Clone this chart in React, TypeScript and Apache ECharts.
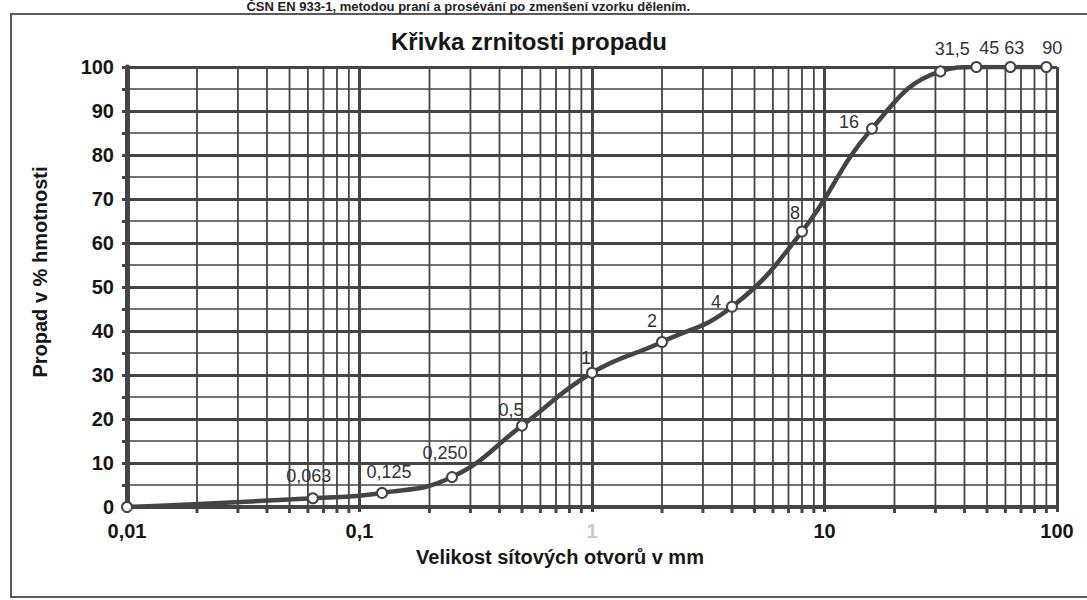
import React, { useEffect, useRef } from "react";
import * as echarts from "echarts";

// ---- data ----
const sieveSizes: number[] = [0.01, 0.063, 0.125, 0.25, 0.5, 1, 2, 4, 8, 16, 31.5, 45, 63, 90];
const passingPercent: number[] = [0, 2.0, 3.2, 6.8, 18.5, 30.5, 37.5, 45.5, 62.6, 86, 99, 100, 100, 100];
const pointLabels: string[] = ["", "0,063", "0,125", "0,250", "0,5", "1", "2", "4", "8", "16", "31,5", "45", "63", "90"];
const decades: number[] = [0.01, 0.1, 1, 10, 100];

// label placement (style, not data): offset of label centre from point
const labelOffsets: [number, number][] = [
  [0, 0], [-4, -22], [7, -21], [-7, -24], [-11, -16], [-6, -15], [-10, -21],
  [-16, -5], [-7, -19], [-23, -7], [12, -22], [13, -19], [4, -19], [6, -19],
];

const titleText = "Křivka zrnitosti propadu";
const yName = "Propad v % hmotnosti";
const xName = "Velikost sítových otvorů v mm";
const topNote = "ČSN EN 933-1, metodou praní a prosévání po zmenšení vzorku dělením.";

const FONT = "'Liberation Sans', Arial, Helvetica, sans-serif";
const GRID = "#454545";
const INK = "#161616";

function fmt(v: number): string {
  return String(Number(v.toPrecision(6))).replace(".", ",");
}

export default function App() {
  const ref = useRef<HTMLDivElement>(null);

  useEffect(() => {
    if (!ref.current) return;
    const chart = echarts.init(ref.current, undefined, { renderer: "svg" });

    // minor vertical grid lines at 2..9 of each decade
    const minorX: number[] = [];
    for (let d = 0; d < decades.length - 1; d++) {
      for (let m = 2; m <= 9; m++) minorX.push(Number((decades[d] * m).toPrecision(6)));
    }

    const option: any = {
      animation: false,
      backgroundColor: "#ffffff",
      title: {
        text: titleText,
        left: 524,
        top: 24,
        textAlign: "center",
        textStyle: { fontFamily: FONT, fontSize: 24, fontWeight: "bold", color: INK },
      },
      grid: { left: 127, right: 30, top: 67, bottom: 93, containLabel: false },
      xAxis: {
        type: "log",
        logBase: 10,
        min: 0.01,
        max: 100,
        axisLine: { show: true, lineStyle: { color: GRID, width: 4 } },
        axisTick: { show: true, length: 5, lineStyle: { color: GRID, width: 3 } },
        axisLabel: {
          margin: 14,
          fontFamily: FONT,
          fontSize: 20,
          fontWeight: "bold",
          color: (v: any) => (Math.abs(Number(v) - 1) < 1e-9 ? "#c8c8c8" : INK),
          formatter: (v: number) => fmt(v),
        },
        splitLine: { show: true, lineStyle: { color: GRID, width: 3 } },
        minorTick: { show: false },
        minorSplitLine: { show: false },
      },
      yAxis: {
        type: "value",
        min: 0,
        max: 100,
        interval: 10,
        axisLine: { show: true, onZero: false, lineStyle: { color: GRID, width: 5 } },
        axisTick: { show: true, length: 5, lineStyle: { color: GRID, width: 3 } },
        minorTick: { show: true, splitNumber: 2, length: 5, lineStyle: { color: GRID, width: 3 } },
        minorSplitLine: { show: true, lineStyle: { color: GRID, width: 1.6 } },
        splitLine: { show: true, lineStyle: { color: GRID, width: 3 } },
        axisLabel: {
          margin: 13,
          fontFamily: FONT,
          fontSize: 20,
          fontWeight: "bold",
          color: INK,
        },
      },
      graphic: [
        {
          type: "rect",
          shape: { x: 11, y: 14, width: 1100, height: 583 },
          style: { fill: "none", stroke: "#5a5a5a", lineWidth: 2 },
          silent: true,
          z: 0,
        },
        {
          type: "text",
          x: 690,
          y: 0,
          style: {
            text: topNote,
            fontFamily: FONT,
            fontSize: 13,
            fontWeight: "bold",
            fill: "#222",
            textAlign: "right",
            textVerticalAlign: "top",
          },
          silent: true,
        },
        {
          type: "text",
          x: 40,
          y: 272,
          rotation: Math.PI / 2,
          style: {
            text: yName,
            fontFamily: FONT,
            fontSize: 20,
            fontWeight: "bold",
            fill: INK,
            textAlign: "center",
            textVerticalAlign: "middle",
          },
          silent: true,
        },
        {
          type: "text",
          x: 560,
          y: 557,
          style: {
            text: xName,
            fontFamily: FONT,
            fontSize: 20,
            fontWeight: "bold",
            fill: INK,
            textAlign: "center",
            textVerticalAlign: "middle",
          },
          silent: true,
        },
      ],
      series: [
        {
          type: "custom",
          silent: true,
          clip: false,
          z: 1,
          data: minorX.map((x) => [x]),
          encode: { x: 0 },
          renderItem: (params: any, api: any) => {
            const x = api.value(0);
            const top = api.coord([x, 100]);
            const bottom = api.coord([x, 0]);
            return {
              type: "group",
              children: [
                {
                  type: "line",
                  shape: { x1: top[0], y1: top[1], x2: bottom[0], y2: bottom[1] },
                  style: { stroke: GRID, lineWidth: 1.8 },
                },
                {
                  type: "line",
                  shape: { x1: bottom[0], y1: bottom[1], x2: bottom[0], y2: bottom[1] + 6 },
                  style: { stroke: GRID, lineWidth: 3 },
                },
              ],
            };
          },
        },
        {
          type: "line",
          smooth: 0.45,
          z: 3,
          symbol: "circle",
          symbolSize: 10,
          lineStyle: { color: "#444444", width: 4.5 },
          itemStyle: { color: "#ffffff", borderColor: "#444444", borderWidth: 2 },
          emphasis: { disabled: true },
          data: sieveSizes.map((s, i) => ({
            value: [s, passingPercent[i]],
            label: {
              show: pointLabels[i] !== "",
              position: "inside",
              offset: labelOffsets[i],
              formatter: pointLabels[i],
              fontFamily: FONT,
              fontSize: 18,
              color: "#333333",
            },
          })),
        },
      ],
    };

    chart.setOption(option);
    return () => chart.dispose();
  }, []);

  return (
    <div
      ref={ref}
      style={{ position: "fixed", left: 0, top: 0, width: 1087, height: 600, background: "#fff" }}
    />
  );
}
